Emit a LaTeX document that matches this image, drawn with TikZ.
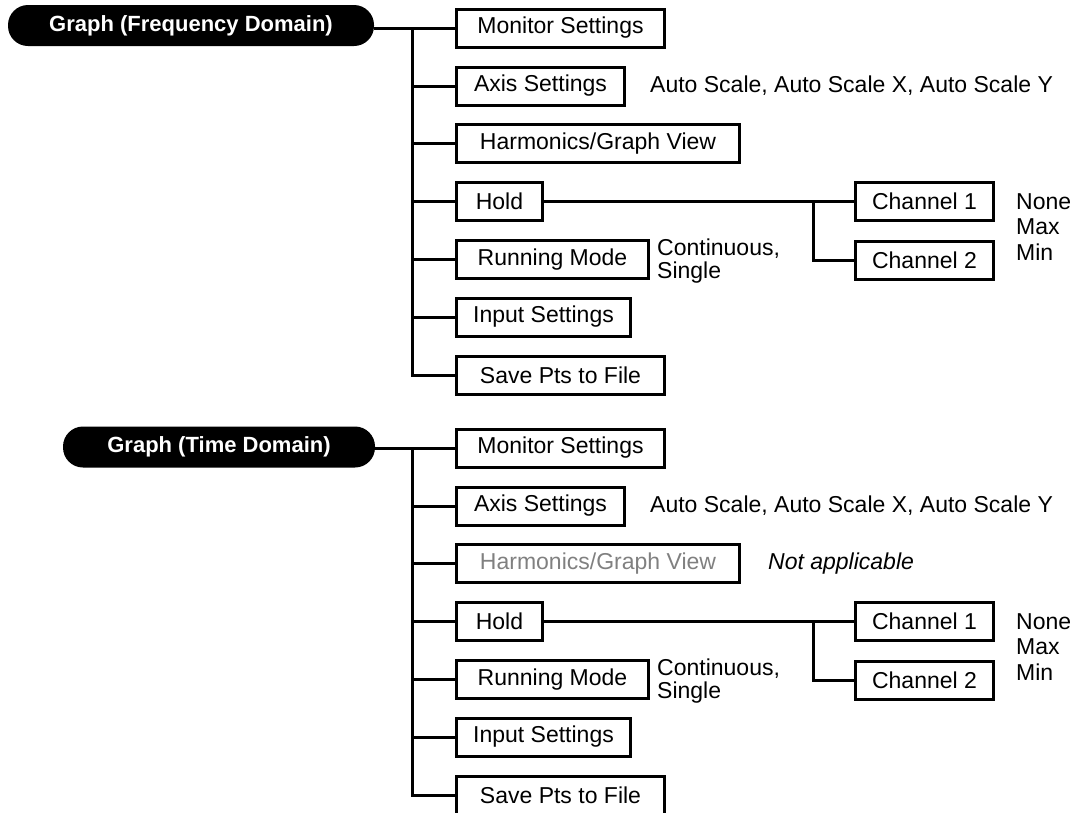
\documentclass[tikz,border=0pt]{standalone}
\usepackage{fontspec}
\setmainfont{Liberation Sans}
\definecolor{dimtext}{RGB}{128,128,128}
\begin{document}
\begin{tikzpicture}[x=1pt,y=-1pt,
  box/.style={draw, line width=3pt, minimum height=38pt, inner sep=0pt, anchor=west, font=\fontsize{23}{26}\selectfont},
  pill/.style={fill=black, rounded corners=20pt, minimum height=41pt, inner sep=0pt, text=white, font=\bfseries\fontsize{22}{26}\selectfont},
  lbl/.style={anchor=west, inner sep=0pt, align=left, font=\fontsize{23}{23}\selectfont},
  lbltall/.style={anchor=west, inner sep=0pt, align=left, font=\fontsize{23}{25.5}\selectfont},
  conn/.style={line width=3pt}]
\useasboundingbox (0,0) rectangle (1081,812);

% ---------- Group 1 ----------
\node[pill, minimum width=366pt] (g1) at (191,25.5) {Graph (Frequency Domain)};
\node[box, minimum width=208pt] (m1) at (455,28) {Monitor Settings};
\node[box, minimum width=168pt] (a1) at (455,86) {Axis Settings};
\node[box, minimum width=283pt] (h1) at (455,143.5) {Harmonics/Graph View};
\node[box, minimum width=86pt]  (o1) at (455,201.5) {Hold};
\node[box, minimum width=192pt] (r1) at (455,259.5) {Running Mode};
\node[box, minimum width=174pt] (i1) at (455,317) {Input Settings};
\node[box, minimum width=208pt] (s1) at (455,375) {Save Pts to File};
\node[box, minimum width=138pt] (ca1) at (854,201.5) {Channel 1};
\node[box, minimum width=138pt] (cb1) at (854,260) {Channel 2};

\node[lbl] (as1) at (650,86) {Auto Scale, Auto Scale X, Auto Scale Y};
\node[lbl] (cs1) at (657,261) {Continuous,\\Single};
\node[lbltall] (nm1) at (1016,227) {None\\Max\\Min};

\coordinate (t1) at (412,28);
\coordinate (b1) at (813,201.5);
\draw[conn] (g1.east |- m1.west) -- (m1.west);
\draw[conn] (t1) |- (s1.west);
\foreach \n in {a1,h1,o1,r1,i1} \draw[conn] (t1 |- \n.west) -- (\n.west);
\draw[conn] (o1.east) -- (ca1.west);
\draw[conn] (b1) |- (cb1.west);

% ---------- Group 2 ----------
\node[pill, minimum width=312pt] (g2) at (219,447) {Graph (Time Domain)};
\node[box, minimum width=208pt] (m2) at (455,448) {Monitor Settings};
\node[box, minimum width=168pt] (a2) at (455,506) {Axis Settings};
\node[box, minimum width=283pt, text=dimtext] (h2) at (455,563.5) {Harmonics/Graph View};
\node[box, minimum width=86pt]  (o2) at (455,621.5) {Hold};
\node[box, minimum width=192pt] (r2) at (455,679.5) {Running Mode};
\node[box, minimum width=174pt] (i2) at (455,737) {Input Settings};
\node[box, minimum width=208pt] (s2) at (455,795) {Save Pts to File};
\node[box, minimum width=138pt] (ca2) at (854,621.5) {Channel 1};
\node[box, minimum width=138pt] (cb2) at (854,680) {Channel 2};

\node[lbl] (as2) at (650,506) {Auto Scale, Auto Scale X, Auto Scale Y};
\node[lbl, font=\itshape\fontsize{23}{23}\selectfont] (na2) at (768,564) {Not applicable};
\node[lbl] (cs2) at (657,681) {Continuous,\\Single};
\node[lbltall] (nm2) at (1016,647) {None\\Max\\Min};

\coordinate (t2) at (412,448);
\coordinate (b2) at (813,621.5);
\draw[conn] (g2.east |- m2.west) -- (m2.west);
\draw[conn] (t2) |- (s2.west);
\foreach \n in {a2,h2,o2,r2,i2} \draw[conn] (t2 |- \n.west) -- (\n.west);
\draw[conn] (o2.east) -- (ca2.west);
\draw[conn] (b2) |- (cb2.west);
\end{tikzpicture}
\end{document}
